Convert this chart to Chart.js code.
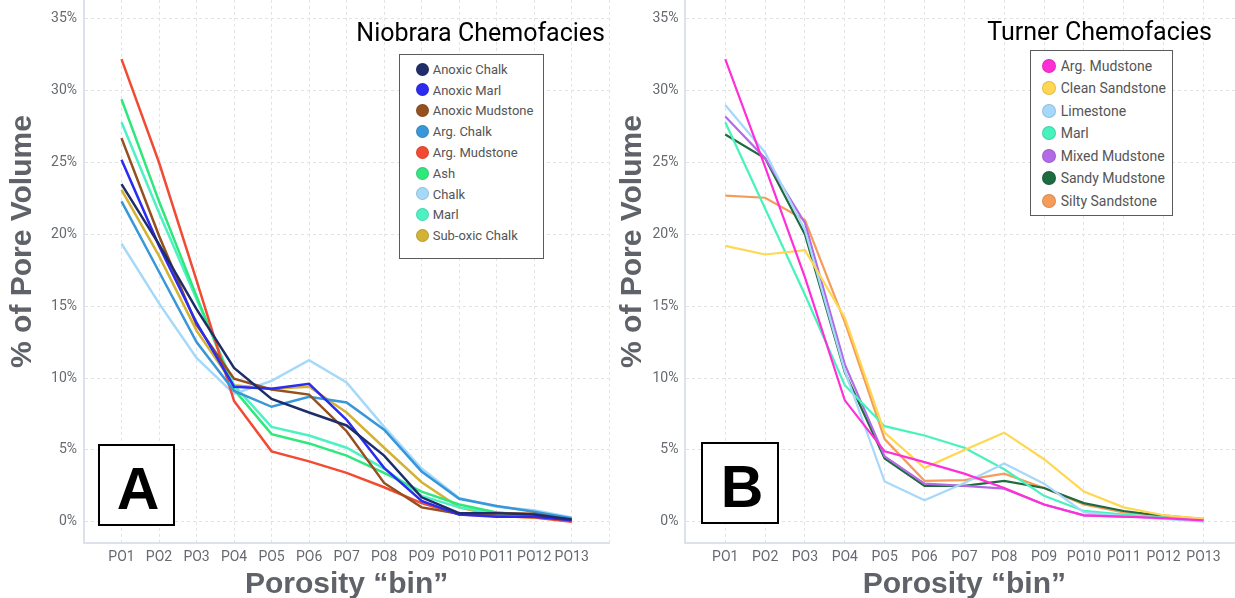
<!DOCTYPE html>
<html>
<head>
<meta charset="utf-8">
<script src="https://cdn.jsdelivr.net/npm/chart.js@4.4.1/dist/chart.umd.min.js"></script>
<style>
  html, body { margin: 0; padding: 0; background: #fff; }
  body { position: relative; width: 1235px; height: 598px; overflow: hidden; font-family: Roboto, sans-serif; }
  .panel { position: absolute; top: -80px; }
  .facies { position: absolute; font: 25px/25px Roboto, sans-serif; color: #000; white-space: nowrap; }
  .legend { position: absolute; border: 1px solid #5b5b5b; box-sizing: border-box; background: #fff; }
  .legend .dot { position: absolute; border-radius: 50%; box-sizing: border-box; border: 1px solid rgba(0,0,0,0.12); }
  .legend .name { position: absolute; white-space: nowrap; color: #555; font-family: Roboto, sans-serif; }
  .tag { position: absolute; border: 2px solid #000; box-sizing: border-box; background: #fff; }
  .tag span { position: absolute; left: 0; right: 0; text-align: center; font: bold 59px/59px "Liberation Sans", Arial, sans-serif; color: #000; }
</style>
</head>
<body>
<canvas id="chartA" class="panel" width="620" height="700" style="left:0px"></canvas>
<canvas id="chartB" class="panel" width="640" height="700" style="left:615px"></canvas>

<div class="facies" style="right:630px; top:19.7px">Niobrara Chemofacies</div>
<div class="facies" style="right:23px; top:19px">Turner Chemofacies</div>

<div id="legendA" class="legend"></div>
<div id="legendB" class="legend"></div>

<div class="tag" style="left:98px; top:444px; width:77px; height:82px"><span style="top:14px; left:3px">A</span></div>
<div class="tag" style="left:701px; top:442px; width:78px; height:82px"><span style="top:14px; left:4px">B</span></div>

<script>
// porosity bins along the x axis
const BINS = ['PO1', 'PO2', 'PO3', 'PO4', 'PO5', 'PO6', 'PO7', 'PO8', 'PO9', 'PO10', 'PO11', 'PO12', 'PO13'];

// Niobrara chemofacies, % of pore volume per bin
const NIO_NAMES = ['Anoxic Chalk', 'Anoxic Marl', 'Anoxic Mudstone', 'Arg. Chalk', 'Arg. Mudstone', 'Ash', 'Chalk', 'Marl', 'Sub-oxic Chalk'];
const NIO_COLORS = ['#1f2d6b', '#2b2bf2', '#95501f', '#3797d8', '#f24b34', '#2fe87c', '#a5d9fa', '#4cf2c3', '#d4b234'];
const nioAnoxicChalk    = [23.5, 19.3, 14.8, 10.7, 8.55, 7.6, 6.7, 4.6, 1.7, 0.6, 0.6, 0.5, 0.15];
const nioAnoxicMarl     = [25.2, 19.2, 13.85, 9.4, 9.25, 9.6, 7.1, 3.75, 1.45, 0.5, 0.35, 0.35, 0.1];
const nioAnoxicMudstone = [26.7, 19.9, 13.7, 9.95, 9.2, 8.85, 6.3, 2.7, 1.0, 0.55, 0.6, 0.55, 0.1];
const nioArgChalk       = [22.3, 17.4, 12.5, 9.1, 8.0, 8.7, 8.3, 6.4, 3.5, 1.6, 1.1, 0.7, 0.25];
const nioArgMudstone    = [32.2, 25.0, 16.8, 8.4, 4.9, 4.2, 3.4, 2.4, 1.3, 0.5, 0.4, 0.3, 0.0];
const nioAsh            = [29.4, 22.3, 15.7, 9.2, 6.1, 5.45, 4.6, 3.4, 2.1, 1.2, 0.65, 0.4, 0.15];
const nioChalk          = [19.35, 15.2, 11.4, 8.9, 9.8, 11.25, 9.7, 6.6, 3.7, 1.65, 1.05, 0.8, 0.3];
const nioMarl           = [27.8, 21.5, 15.5, 9.5, 6.6, 6.0, 5.15, 3.7, 1.8, 1.0, 0.6, 0.4, 0.15];
const nioSubOxicChalk   = [23.1, 18.5, 13.3, 9.5, 9.25, 9.4, 7.6, 5.15, 2.75, 1.0, 0.4, 0.3, 0.1];

// Turner chemofacies
const TUR_NAMES = ['Arg. Mudstone', 'Clean Sandstone', 'Limestone', 'Marl', 'Mixed Mudstone', 'Sandy Mudstone', 'Silty Sandstone'];
const TUR_COLORS = ['#ff2fd8', '#ffd750', '#a6d8fb', '#47f2bd', '#b36ae6', '#1e6b40', '#f59c5a'];
const turArgMudstone    = [32.2, 24.7, 17.0, 8.45, 4.9, 4.15, 3.35, 2.35, 1.2, 0.45, 0.35, 0.25, 0.1];
const turCleanSandstone = [19.2, 18.6, 18.9, 14.2, 6.2, 3.75, 5.0, 6.2, 4.35, 2.1, 1.0, 0.45, 0.2];
const turLimestone      = [29.0, 25.7, 20.3, 10.5, 2.8, 1.5, 2.7, 4.05, 2.65, 0.65, 0.4, 0.2, 0.0];
const turMarl           = [27.8, 21.8, 15.8, 9.5, 6.65, 6.0, 5.15, 3.65, 1.8, 0.75, 0.5, 0.3, 0.1];
const turMixedMudstone  = [28.2, 25.3, 20.8, 10.95, 4.55, 2.65, 2.5, 2.3, 1.2, 0.45, 0.35, 0.3, 0.1];
const turSandyMudstone  = [26.95, 25.3, 20.0, 10.4, 4.4, 2.5, 2.5, 2.85, 2.35, 1.3, 0.75, 0.4, 0.15];
const turSiltySandstone = [22.7, 22.55, 21.0, 13.9, 5.75, 2.85, 2.9, 3.35, 2.35, 1.2, 0.65, 0.45, 0.2];

const Y_TICK_STEP = 5;

const GRID_COLOR = '#e2e2e2';
const AXIS_COLOR = '#dde1ec';
const TICK_COLOR = '#666a70';
const TITLE_COLOR = '#5f6268';

function makeChart(canvasId, names, colors, series, opts) {
    const ctx = document.getElementById(canvasId).getContext('2d');
    return new Chart(ctx, {
        type: 'line',
        data: {
            datasets: names.map((name, i) => ({
                label: name,
                data: series[i].map((v, k) => ({ x: k + 1, y: v })),
                borderColor: colors[i],
                backgroundColor: colors[i],
                borderWidth: opts.lineWidth,
                pointRadius: 0,
                tension: 0,
                fill: false
            }))
        },
        options: {
            responsive: false,
            animation: false,
            layout: { padding: { left: 0, right: opts.padRight, top: 19.8, bottom: 0 } },
            plugins: { legend: { display: false }, tooltip: { enabled: false } },
            scales: {
                x: {
                    type: 'linear',
                    min: 0,
                    max: BINS.length + 1,
                    afterFit: (s) => { s.height = 76.7; },
                    grid: { color: GRID_COLOR, lineWidth: 1, drawTicks: false },
                    border: { color: AXIS_COLOR, width: 2, dash: [3, 3] },
                    ticks: {
                        stepSize: 1,
                        autoSkip: false,
                        maxRotation: 0,
                        padding: 6,
                        color: TICK_COLOR,
                        font: { family: 'Roboto', size: 14 },
                        callback: (v) => BINS[v - 1] || ''
                    },
                    title: {
                        display: true,
                        text: 'Porosity “bin”',
                        color: TITLE_COLOR,
                        font: { family: 'Liberation Sans', size: 30, weight: 'bold' },
                        padding: { top: 0, bottom: 17 }
                    }
                },
                y: {
                    min: -1.5,
                    max: 40.5,
                    // keep only the round 5% steps
                    afterBuildTicks: (s) => {
                        s.ticks = s.ticks.filter(t => t.value >= 0 && t.value % Y_TICK_STEP === 0);
                    },
                    afterFit: (s) => { s.width = opts.axisWidth; },
                    grid: { color: GRID_COLOR, lineWidth: 1, drawTicks: false },
                    border: { color: AXIS_COLOR, width: 2, dash: [3, 3] },
                    ticks: {
                        stepSize: Y_TICK_STEP,
                        padding: 7,
                        color: TICK_COLOR,
                        font: { family: 'Roboto', size: 14 },
                        callback: (v) => v + '%'
                    },
                    title: {
                        display: true,
                        text: '% of Pore Volume',
                        color: TITLE_COLOR,
                        font: { family: 'Liberation Sans', size: 30, weight: 'bold' },
                        padding: { top: opts.titlePad, bottom: 0 }
                    }
                }
            }
        }
    });
}

// boxed legend with round swatches
function buildLegend(id, names, colors, box) {
    const el = document.getElementById(id);
    Object.assign(el.style, {
        left: box.x + 'px', top: box.y + 'px', width: box.w + 'px', height: box.h + 'px'
    });
    names.forEach((name, i) => {
        const cy = box.firstRow + i * box.rowStep - box.y - 1;
        const dot = document.createElement('div');
        dot.className = 'dot';
        Object.assign(dot.style, {
            left: (box.dotX - box.x - 1 - box.dot / 2) + 'px',
            top: (cy - box.dot / 2) + 'px',
            width: box.dot + 'px', height: box.dot + 'px',
            background: colors[i]
        });
        const label = document.createElement('div');
        label.className = 'name';
        label.textContent = name;
        Object.assign(label.style, {
            left: (box.textX - box.x - 1) + 'px',
            top: (cy - box.font * 0.486) + 'px',
            fontSize: box.font + 'px',
            lineHeight: box.font + 'px'
        });
        el.appendChild(dot);
        el.appendChild(label);
    });
}

makeChart('chartA', NIO_NAMES, NIO_COLORS,
    [nioAnoxicChalk, nioAnoxicMarl, nioAnoxicMudstone, nioArgChalk, nioArgMudstone, nioAsh, nioChalk, nioMarl, nioSubOxicChalk],
    { lineWidth: 2.5, padRight: 10.8, axisWidth: 84, titlePad: 4.4 });

makeChart('chartB', TUR_NAMES, TUR_COLORS,
    [turArgMudstone, turCleanSandstone, turLimestone, turMarl, turMixedMudstone, turSandyMudstone, turSiltySandstone],
    { lineWidth: 2.2, padRight: 11.7, axisWidth: 70.4, titlePad: 0 });

buildLegend('legendA', NIO_NAMES, NIO_COLORS,
    { x: 398.5, y: 54, w: 145, h: 205, dotX: 422.3, textX: 432.7, dot: 13, font: 13, firstRow: 69, rowStep: 20.83 });
buildLegend('legendB', TUR_NAMES, TUR_COLORS,
    { x: 1030.3, y: 49.7, w: 143, h: 166, dotX: 1048.7, textX: 1060.7, dot: 14, font: 14, firstRow: 65.7, rowStep: 22.5 });
</script>
</body>
</html>
